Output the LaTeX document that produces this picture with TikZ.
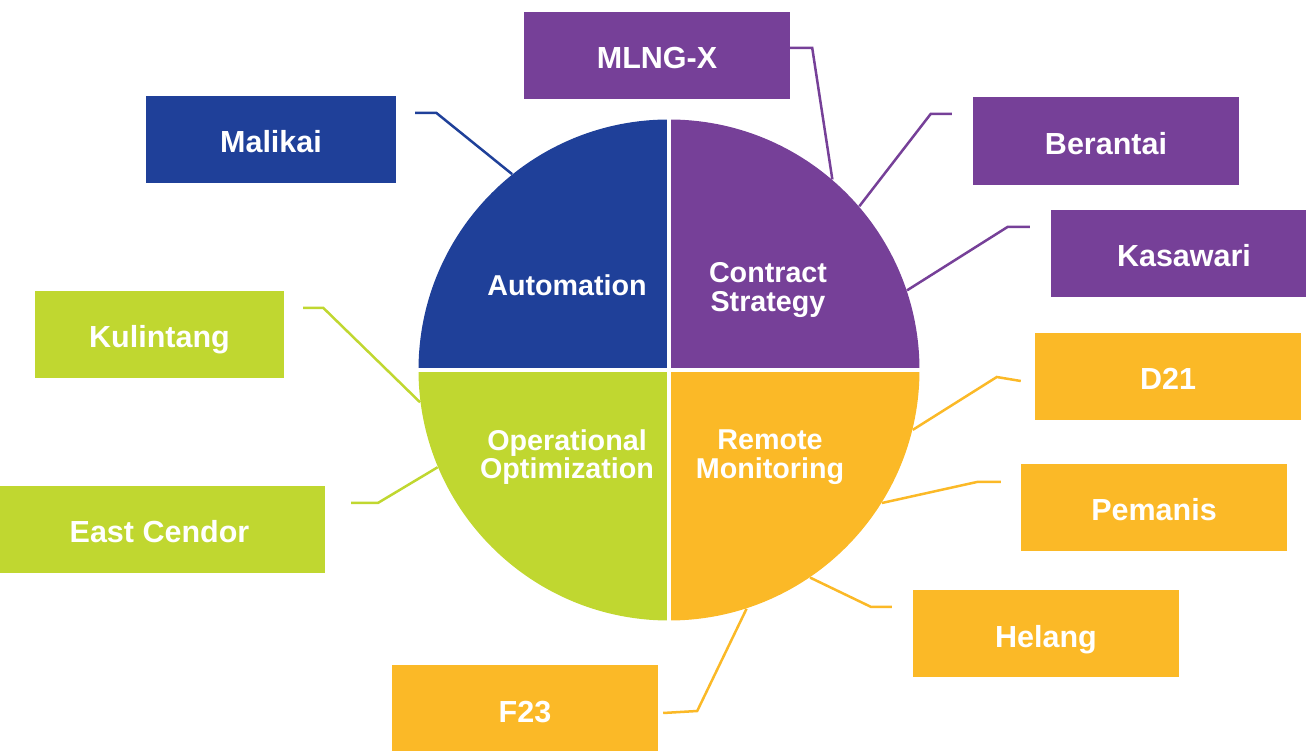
\documentclass[tikz,border=0pt]{standalone}
\usepackage{fontspec}
\setmainfont{Liberation Sans}
\usetikzlibrary{calc}

\definecolor{autoblue}{RGB}{31,64,153}
\definecolor{contractpurple}{RGB}{118,64,152}
\definecolor{optimgreen}{RGB}{192,215,48}
\definecolor{remoteorange}{RGB}{251,185,39}

\tikzset{
  field/.style={minimum width=266, minimum height=87, inner sep=0,
    text height=27, text depth=0,
    text=white, font=\fontsize{30.5}{31}\selectfont\bfseries},
  quarter/.style={text=white, align=center, inner sep=0,
    font=\fontsize{28.7}{28.5}\selectfont\bfseries},
  leader/.style={line width=2.5, line join=miter}
}

\begin{document}
\begin{tikzpicture}[x=1pt,y=1pt]
\useasboundingbox (0,0) rectangle (1306,750);

% the wheel
\coordinate (c) at (669,380);
\fill[autoblue] (c) -- ++(180:250.5) arc[start angle=180,end angle=90,radius=250.5] -- cycle;
\fill[contractpurple] (c) -- ++(90:250.5) arc[start angle=90,end angle=0,radius=250.5] -- cycle;
\fill[remoteorange] (c) -- ++(0:250.5) arc[start angle=0,end angle=-90,radius=250.5] -- cycle;
\fill[optimgreen] (c) -- ++(-90:250.5) arc[start angle=-90,end angle=-180,radius=250.5] -- cycle;
\draw[white, line width=4] ($(c)+(-253,0)$) -- ($(c)+(253,0)$);
\draw[white, line width=4] ($(c)+(0,-253)$) -- ($(c)+(0,253)$);

\node[quarter] (automation) at (567,465) {Automation};
\node[quarter] (contract) at (768,460) {Contract\\Strategy};
\node[quarter] (operational) at (567,293) {Operational\\Optimization};
\node[quarter] (remote) at (770,293) {Remote\\Monitoring};

% fields
\node[field, fill=contractpurple] (mlngx) at (657,694.5) {MLNG-X};
\node[field, fill=autoblue, minimum width=250] (malikai) at (271,610.5) {Malikai};
\node[field, fill=contractpurple, minimum height=88] (berantai) at (1106,609) {Berantai};
\node[field, fill=contractpurple] (kasawari) at (1184,496.5) {Kasawari};
\node[field, fill=optimgreen, minimum width=249] (kulintang) at (159.5,415.5) {Kulintang};
\node[field, fill=remoteorange] (d21) at (1168,373.5) {D21};
\node[field, fill=optimgreen, minimum width=331] (eastcendor) at (159.5,220.5) {East Cendor};
\node[field, fill=remoteorange] (pemanis) at (1154,242.5) {Pemanis};
\node[field, fill=remoteorange] (helang) at (1046,116.5) {Helang};
\node[field, fill=remoteorange] (f23) at (525,41.5) {F23};

% leader lines
\coordinate (malikai-a) at ($(malikai.north east)+(19,-17)$);
\coordinate (malikai-b) at ($(malikai-a)+(21,0)$);
\draw[leader, autoblue] (malikai-a) -- (malikai-b) -- ($(c)+(128.7:251)$);

\coordinate (mlngx-a) at ($(mlngx.north east)+(0,-36)$);
\coordinate (mlngx-b) at ($(mlngx-a)+(22,0)$);
\draw[leader, contractpurple] (mlngx-a) -- (mlngx-b) -- ($(c)+(49.4:251)$);

\coordinate (berantai-a) at ($(berantai.north west)+(-21,-17)$);
\coordinate (berantai-b) at ($(berantai-a)+(-21,0)$);
\draw[leader, contractpurple] (berantai-a) -- (berantai-b) -- ($(c)+(40.7:251)$);

\coordinate (kasawari-a) at ($(kasawari.north west)+(-21,-17)$);
\coordinate (kasawari-b) at ($(kasawari-a)+(-22,0)$);
\draw[leader, contractpurple] (kasawari-a) -- (kasawari-b) -- ($(c)+(18.5:251)$);

\coordinate (kulintang-a) at ($(kulintang.north east)+(19,-17)$);
\coordinate (kulintang-b) at ($(kulintang-a)+(20,0)$);
\draw[leader, optimgreen] (kulintang-a) -- (kulintang-b) -- ($(c)+(187.4:251)$);

\coordinate (eastcendor-a) at ($(eastcendor.north east)+(26,-17)$);
\coordinate (eastcendor-b) at ($(eastcendor-a)+(27,0)$);
\draw[leader, optimgreen] (eastcendor-a) -- (eastcendor-b) -- ($(c)+(202.8:251)$);

\coordinate (d21-a) at ($(d21.west)+(-14,-4.5)$);
\coordinate (d21-b) at ($(d21-a)+(-24,4)$);
\draw[leader, remoteorange] (d21-a) -- (d21-b) -- ($(c)+(-13.8:251)$);

\coordinate (pemanis-a) at ($(pemanis.north west)+(-20,-18)$);
\coordinate (pemanis-b) at ($(pemanis-a)+(-23,0)$);
\draw[leader, remoteorange] (pemanis-a) -- (pemanis-b) -- ($(c)+(-32:251)$);

\coordinate (helang-a) at ($(helang.north west)+(-21,-17)$);
\coordinate (helang-b) at ($(helang-a)+(-21,0)$);
\draw[leader, remoteorange] (helang-a) -- (helang-b) -- ($(c)+(-55.8:251)$);

\coordinate (f23-a) at ($(f23.east)+(5,-4.5)$);
\coordinate (f23-b) at ($(f23-a)+(34,2)$);
\draw[leader, remoteorange] (f23-a) -- (f23-b) -- ($(c)+(-72:251)$);
\end{tikzpicture}
\end{document}
